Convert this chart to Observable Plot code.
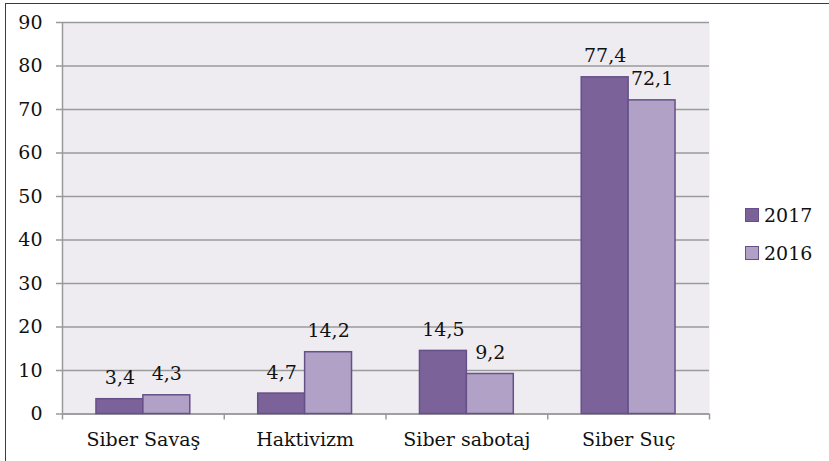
<!DOCTYPE html>
<html>
<head>
<meta charset="utf-8">
<script src="https://cdn.jsdelivr.net/npm/d3@7"></script>
<script src="https://cdn.jsdelivr.net/npm/@observablehq/plot@0.6"></script>
<style>
  html, body { margin: 0; padding: 0; background: #fff; }
  #wrap { position: relative; width: 829px; height: 461px; overflow: hidden; }
  #wrap svg { position: absolute; left: 0; top: 0; }
  #border { position: absolute; left: 5px; top: 3px; right: -10px; bottom: -10px;
            border-left: 1.5px solid #3c3c3c; border-top: 1.5px solid #3c3c3c; pointer-events: none; }
  #legend { position: absolute; left: 745px; top: 196px; font-family: "DejaVu Serif"; font-size: 19px; color: #111; }
  #legend .item { display: flex; align-items: center; height: 38px; }
  #legend .sw { width: 12px; height: 12px; border: 1.5px solid #66508a; margin-right: 5px; box-sizing: content-box; }
</style>
</head>
<body>
<div id="wrap">
  <div id="chart"></div>
  <div id="legend"></div>
  <div id="border"></div>
</div>
<script>
const categories = ["Siber Savaş", "Haktivizm", "Siber sabotaj", "Siber Suç"];
const series = ["2017", "2016"];
const values2017 = [3.4, 4.7, 14.5, 77.4];
const values2016 = [4.3, 14.2, 9.2, 72.1];
const yTicks = [0, 10, 20, 30, 40, 50, 60, 70, 80, 90];

const colors = {"2017": "#7b6399", "2016": "#b1a1c6"};
const barStroke = "#66508a";
const gridColor = "#9a9a9a";
const font = "DejaVu Serif";

const data = [];
categories.forEach((c, i) => {
  data.push({cat: c, i, series: "2017", value: values2017[i]});
  data.push({cat: c, i, series: "2016", value: values2016[i]});
});
const barW = 0.29; // bar width in category-units
const fmt = v => v.toFixed(1).replace(".", ",");

const chart = Plot.plot({
  width: 829,
  height: 461,
  marginLeft: 62,
  marginRight: 120,
  marginTop: 22,
  marginBottom: 47.5,
  style: {fontFamily: font, fontSize: "19px", color: "#111", background: "transparent"},
  x: {type: "linear", domain: [-0.5, categories.length - 0.5]},
  y: {domain: [0, 90]},
  color: {domain: series, range: series.map(s => colors[s])},
  marks: [
    Plot.frame({fill: "#eeecf1", stroke: null}),
    Plot.gridY(yTicks, {stroke: gridColor, strokeOpacity: 1, strokeWidth: 1.5}),
    Plot.ruleX([-0.5], {stroke: gridColor, strokeWidth: 1.5}),
    Plot.ruleY([0], {stroke: gridColor, strokeWidth: 1.5}),
    Plot.axisY(yTicks, {tickSize: 6, tickPadding: 14, stroke: gridColor, strokeWidth: 1.5, label: null, fontSize: 19}),
    Plot.axisX(d3.range(categories.length + 1).map(k => k - 0.5), {tickSize: 6, tickFormat: () => "", stroke: gridColor, strokeWidth: 1.5, label: null}),
    Plot.axisX(d3.range(categories.length), {tickSize: 0, tickPadding: 18, tickFormat: k => categories[k], label: null, fontSize: 19}),
    Plot.rectY(data, {
      x1: d => d.series === "2017" ? d.i - barW : d.i,
      x2: d => d.series === "2017" ? d.i : d.i + barW,
      y1: 0, y2: "value",
      fill: "series",
      stroke: barStroke, strokeWidth: 1.5
    }),
    Plot.text(data, {
      x: d => d.series === "2017" ? d.i - barW / 2 : d.i + barW / 2,
      y: "value",
      text: d => fmt(d.value),
      dy: -21,
      fontSize: 19,
      fill: "#111"
    })
  ]
});
document.getElementById("chart").appendChild(chart);

const legend = document.getElementById("legend");
series.forEach(s => {
  const it = document.createElement("div");
  it.className = "item";
  const sw = document.createElement("span");
  sw.className = "sw";
  sw.style.background = colors[s];
  const t = document.createElement("span");
  t.textContent = s;
  it.appendChild(sw); it.appendChild(t);
  legend.appendChild(it);
});
</script>
</body>
</html>
